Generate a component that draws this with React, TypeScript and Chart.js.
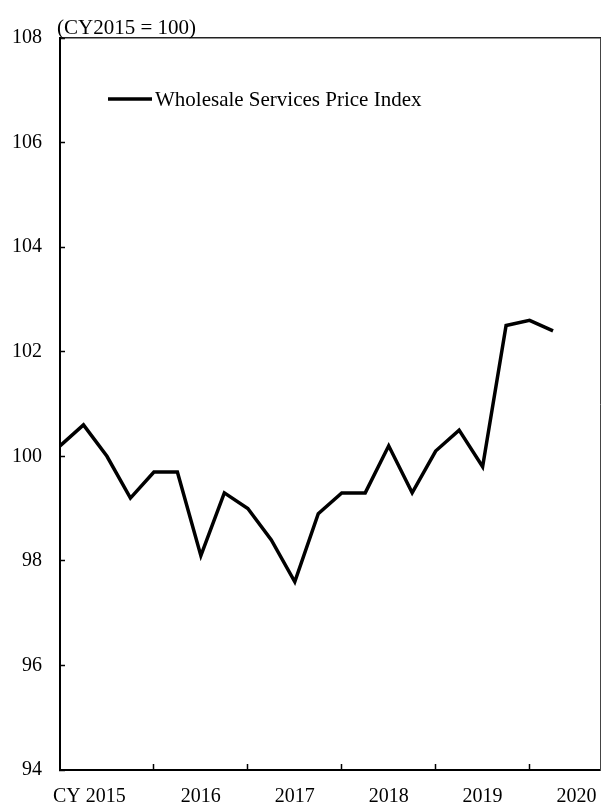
import { useEffect, useRef } from 'react';
import { Chart, registerables } from 'chart.js';

Chart.register(...registerables);

const quarterLabels = [
  '2015 Q1', '2015 Q2', '2015 Q3', '2015 Q4',
  '2016 Q1', '2016 Q2', '2016 Q3', '2016 Q4',
  '2017 Q1', '2017 Q2', '2017 Q3', '2017 Q4',
  '2018 Q1', '2018 Q2', '2018 Q3', '2018 Q4',
  '2019 Q1', '2019 Q2', '2019 Q3', '2019 Q4',
  '2020 Q1', '2020 Q2',
];
const indexValues = [
  100.2, 100.6, 100.0, 99.2,
  99.7, 99.7, 98.1, 99.3,
  99.0, 98.4, 97.6, 98.9,
  99.3, 99.3, 100.2, 99.3,
  100.1, 100.5, 99.8, 102.5,
  102.6, 102.4,
];
const yearLabels = ['CY 2015', '2016', '2017', '2018', '2019', '2020'];
const seriesName = 'Wholesale Services Price Index';
const unitNote = '(CY2015 = 100)';
const yMin = 94;
const yMax = 108;
const yStep = 2;

const QUARTERS_PER_YEAR = 4;
const X_MAX = yearLabels.length * QUARTERS_PER_YEAR - 1;
const FONT_FAMILY = '"Liberation Serif", "Times New Roman", serif';
const FONT_SIZE = 20;
const NOTE_FONT_SIZE = 21;

const boundaryValues = yearLabels.slice(1).map((_, i) => (i + 1) * QUARTERS_PER_YEAR);
const labelValues = yearLabels.map((_, i) => (i === 0 ? 1.25 : i * QUARTERS_PER_YEAR + 2));

const overlayPlugin = {
  id: 'overlayText',
  afterDraw(chart: any) {
    const { ctx, chartArea } = chart;
    const ds = chart.data.datasets[0];
    ctx.save();
    ctx.font = `${NOTE_FONT_SIZE}px ${FONT_FAMILY}`;
    ctx.fillStyle = '#000';
    ctx.textAlign = 'left';
    ctx.textBaseline = 'alphabetic';
    ctx.fillText(unitNote, chartArea.left - 3, chartArea.top - 4);
    const ly = chartArea.top + 61;
    ctx.strokeStyle = ds.borderColor;
    ctx.lineWidth = ds.borderWidth;
    ctx.lineCap = 'butt';
    ctx.beginPath();
    ctx.moveTo(chartArea.left + 48, ly);
    ctx.lineTo(chartArea.left + 92, ly);
    ctx.stroke();
    ctx.textBaseline = 'middle';
    ctx.fillText(ds.label, chartArea.left + 95, ly + 1);
    ctx.restore();
  },
};

export default function App() {
  const canvasRef = useRef<HTMLCanvasElement | null>(null);

  useEffect(() => {
    if (!canvasRef.current) return;
    const font = { family: FONT_FAMILY, size: FONT_SIZE };
    const chart = new Chart(canvasRef.current, {
      type: 'line',
      data: {
        labels: quarterLabels,
        datasets: [
          {
            label: seriesName,
            data: indexValues.map((v, i) => ({ x: i, y: v })),
            borderColor: '#000',
            backgroundColor: '#000',
            borderWidth: 3.5,
            pointRadius: 0,
            tension: 0,
            fill: false,
          },
        ],
      },
      options: {
        animation: false,
        responsive: true,
        maintainAspectRatio: false,
        layout: { padding: { top: 38, right: 1, left: 0, bottom: 0 } },
        plugins: {
          legend: { display: false },
          tooltip: { enabled: false },
        },
        scales: {
          x: {
            type: 'linear',
            position: 'bottom',
            min: 0,
            max: X_MAX,
            afterBuildTicks: (s: any) => {
              s.ticks = [...boundaryValues, ...labelValues]
                .sort((a, b) => a - b)
                .map((v) => ({ value: v }));
            },
            afterFit: (s: any) => {
              s.height = 35;
              s.paddingLeft = 0;
              s.paddingRight = 0;
            },
            grid: {
              drawOnChartArea: false,
              drawTicks: true,
              tickLength: -6,
              tickWidth: 1.5,
              tickColor: (c: any) =>
                c.tick && boundaryValues.includes(c.tick.value) ? '#000' : 'rgba(0,0,0,0)',
            },
            border: { display: true, color: '#000', width: 2 },
            ticks: {
              autoSkip: false,
              maxRotation: 0,
              minRotation: 0,
              padding: 21,
              color: '#000',
              font,
              callback: (v: any) => {
                const idx = labelValues.indexOf(Number(v));
                return idx >= 0 ? yearLabels[idx] : '';
              },
            },
          },
          xTop: {
            type: 'linear',
            position: 'top',
            min: 0,
            max: X_MAX,
            afterFit: (s: any) => {
              s.height = 0;
              s.paddingLeft = 0;
              s.paddingRight = 0;
            },
            ticks: { display: false },
            grid: { display: false, drawTicks: false },
            border: { display: true, color: '#222', width: 1.5 },
          },
          y: {
            position: 'left',
            min: yMin,
            max: yMax,
            afterFit: (s: any) => {
              s.width = 60;
              s.paddingTop = 0;
              s.paddingBottom = 0;
            },
            ticks: { stepSize: yStep, padding: 23, color: '#000', font },
            grid: {
              drawOnChartArea: false,
              drawTicks: true,
              tickLength: -5,
              tickWidth: 1.5,
              tickColor: '#000',
            },
            border: { display: true, color: '#000', width: 2 },
          },
          yRight: {
            position: 'right',
            min: yMin,
            max: yMax,
            afterFit: (s: any) => {
              s.width = 0;
              s.paddingTop = 0;
              s.paddingBottom = 0;
            },
            ticks: { display: false },
            grid: { display: false, drawTicks: false },
            border: { display: true, color: '#444', width: 1 },
          },
        },
      } as any,
      plugins: [overlayPlugin],
    });
    return () => chart.destroy();
  }, []);

  return (
    <div
      style={{
        position: 'fixed',
        left: 0,
        top: 0,
        width: 601,
        height: 805,
        overflow: 'hidden',
        background: '#fff',
      }}
    >
      <canvas ref={canvasRef} style={{ display: 'block' }} />
    </div>
  );
}
